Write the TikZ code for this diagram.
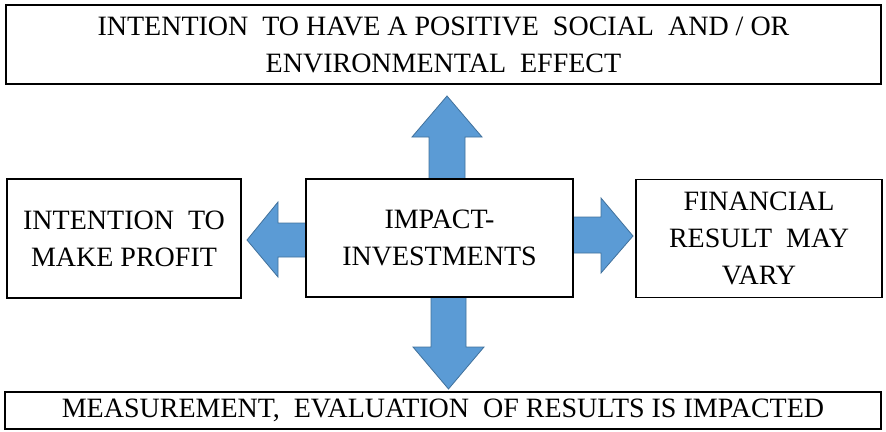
\documentclass[tikz,border=0pt]{standalone}
\usepackage{fontspec}
\newfontfamily\fa{Liberation Serif}
\begin{document}
\begin{tikzpicture}[x=1pt,y=-1pt,
  textbox/.style={draw=black, line width=1.2pt, fill=white, inner sep=0pt},
  label/.style={font=\fa\fontsize{28}{36}\selectfont, inner sep=0pt},
  blockarrow/.style={fill={rgb,255:red,91;green,155;blue,213}, draw={rgb,255:red,65;green,113;blue,156}, line width=0.8pt, line join=miter}]
\useasboundingbox (0,0) rectangle (886,431);
% block arrows (drawn first, behind boxes)
\draw[blockarrow] (429,179) -- (429,137) -- (412,137) -- (447,96) -- (482,137) -- (465,137) -- (465,179) -- cycle;
\draw[blockarrow] (431,297) -- (431,347) -- (413,347) -- (448.5,389) -- (484,347) -- (466,347) -- (466,297) -- cycle;
\draw[blockarrow] (306,223) -- (278,223) -- (278,202) -- (247,240) -- (278,277) -- (278,257) -- (306,257) -- cycle;
\draw[blockarrow] (573,217) -- (601,217) -- (601,198) -- (633,236) -- (601,273) -- (601,253) -- (573,253) -- cycle;
% boxes
\node[textbox, minimum width=875pt, minimum height=79pt] (top) at (443.5,44.5) {};
\node[textbox, minimum width=267pt, minimum height=118pt] (center) at (439.5,238) {};
\node[textbox, minimum width=234pt, minimum height=119pt] (left) at (124,238.5) {};
\node[textbox, minimum width=246pt, minimum height=118pt] (right) at (759,238.5) {};
\node[textbox, minimum width=876pt, minimum height=37pt] (bottom) at (443,410.5) {};
% texts
\node[label] (top1) at ([yshift=18.5pt]top.center) {INTENTION\ \ TO HAVE A POSITIVE\ \ SOCIAL\ \ AND / OR};
\node[label] (top2) at ([yshift=-18.5pt]top.center) {ENVIRONMENTAL\ \ EFFECT};
\node[label] (c1) at ([yshift=18.5pt]center.center) {IMPACT-};
\node[label] (c2) at ([yshift=-18.5pt]center.center) {INVESTMENTS};
\node[label] (l1) at ([yshift=18.5pt]left.center) {INTENTION\ \ TO};
\node[label] (l2) at ([yshift=-18.5pt]left.center) {MAKE PROFIT};
\node[label] (r1) at ([yshift=37pt]right.center) {FINANCIAL};
\node[label] (r2) at (right.center) {RESULT\ \ MAY};
\node[label] (r3) at ([yshift=-37pt]right.center) {VARY};
\node[label] (b1) at (bottom.center) {MEASUREMENT,\ \ EVALUATION\ \ OF RESULTS IS IMPACTED};
\end{tikzpicture}
\end{document}
